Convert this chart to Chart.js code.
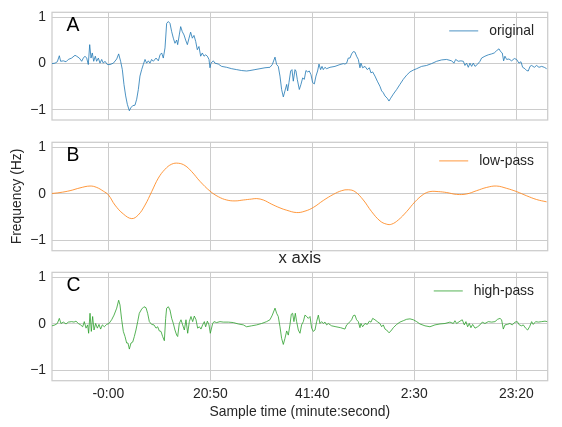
<!DOCTYPE html>
<html lang="en">
  <head>
    <meta charset="UTF-8" />
    <title>Original, low-pass and high-pass signal</title>
    <style>
      * {
        margin: 0;
        padding: 0;
        box-sizing: border-box;
      }
      body {
        background: #fff;
      }
      .figure {
        position: relative;
        width: 562px;
        height: 427px;
        background: #fff;
      }
      .figure canvas {
        position: absolute;
        left: 0;
      }
    </style>
  </head>
  <body>
    <div class="figure">
      <canvas id="chartA" width="562" height="130" style="top: 0px"></canvas>
      <canvas id="chartB" width="562" height="130" style="top: 130px"></canvas>
      <canvas id="chartC" width="562" height="182" style="top: 245px"></canvas>
    </div>

    <script src="https://cdn.jsdelivr.net/npm/chart.js"></script>
    <script>
      // sample time in seconds
      const xTickValues = [0, 1250, 2500, 3750, 5000];
      const xTickLabels = ["-0:00", "20:50", "41:40", "2:30", "23:20"];
      const yTickValues = [-1, 0, 1];
      const yTickLabels = ["\u22121", "0", "1"];

      const origTime = [
        -690, -653, -625, -600, -584, -551, -518, -490, -449, -408,
        -388, -355, -326, -306, -286, -265, -245, -228, -212, -196,
        -179, -159, -143, -122, -102, -81, -61, -41, -12, 21,
        62, 103, 127, 151, 172, 192, 213, 233, 258, 274,
        299, 327, 348, 368, 388, 409, 429, 450, 470, 491,
        511, 531, 552, 585, 613, 634, 654, 674, 695, 715,
        736, 756, 777, 797, 817, 838, 850, 870, 887, 907,
        928, 948, 969, 989, 1009, 1030, 1050, 1071, 1091, 1111,
        1132, 1152, 1173, 1193, 1214, 1234, 1246, 1258, 1287, 1307,
        1348, 1389, 1450, 1512, 1573, 1634, 1695, 1736, 1797, 1859,
        1920, 1981, 2010, 2043, 2063, 2083, 2104, 2124, 2145, 2165,
        2186, 2198, 2214, 2235, 2251, 2267, 2288, 2300, 2316, 2341,
        2361, 2382, 2402, 2422, 2443, 2463, 2484, 2504, 2525, 2545,
        2565, 2582, 2602, 2619, 2635, 2655, 2676, 2717, 2778, 2839,
        2880, 2900, 2921, 2941, 2962, 2982, 3003, 3023, 3043, 3064,
        3084, 3096, 3117, 3146, 3174, 3199, 3219, 3240, 3268, 3297,
        3329, 3350, 3370, 3391, 3419, 3440, 3460, 3493, 3534, 3574,
        3615, 3656, 3697, 3738, 3779, 3840, 3901, 3962, 4024, 4085,
        4146, 4208, 4236, 4257, 4289, 4322, 4351, 4371, 4391, 4412,
        4432, 4453, 4473, 4494, 4522, 4555, 4575, 4616, 4657, 4698,
        4730, 4759, 4788, 4808, 4828, 4845, 4861, 4882, 4910, 4943,
        4976, 5004, 5033, 5057, 5078, 5106, 5127, 5147, 5168, 5188,
        5221, 5249, 5278, 5311, 5343, 5372,
      ];
      const origValue = [
        0, 0.01, 0.04, 0.17, 0.05, 0.06, 0.04, 0.09, 0.12, 0.18,
        0.16, 0.12, 0.05, 0.12, 0.16, 0.12, -0.02, 0.41, 0.12, 0.23,
        0.05, 0.16, 0.05, 0.12, 0.01, 0.09, 0.01, 0.05, -0.02, -0.02,
        0.01, 0.1, 0.21, 0.05, -0.13, -0.45, -0.7, -0.88, -1.02, -0.96,
        -0.91, -0.9, -0.77, -0.56, -0.27, -0.13, -0.02, 0.09, 0.01, 0.06,
        0.01, 0.09, 0.05, 0.12, 0.06, 0.19, 0.23, 0.12, 0.34, 0.87,
        0.91, 0.87, 0.69, 0.55, 0.44, 0.51, 0.41, 0.62, 0.8, 0.69,
        0.62, 0.51, 0.41, 0.55, 0.68, 0.55, 0.61, 0.48, 0.3, 0.37,
        0.16, 0.23, 0.16, 0.19, 0.16, 0.09, -0.09, 0.01, 0.06, 0.01,
        -0.01, -0.06, -0.08, -0.11, -0.13, -0.15, -0.16, -0.15, -0.13, -0.11,
        -0.09, -0.08, -0.02, 0.14, -0.02, -0.06, -0.27, -0.56, -0.72, -0.59,
        -0.45, -0.59, -0.41, -0.16, -0.13, -0.38, -0.13, -0.16, -0.34, -0.56,
        -0.45, -0.31, -0.34, -0.15, -0.18, -0.16, -0.24, -0.41, -0.44, -0.27,
        -0.16, -0.01, -0.13, -0.06, -0.13, -0.08, -0.11, -0.08, -0.06, -0.02,
        0, -0.01, 0.01, 0.12, 0.12, 0.21, 0.26, 0.25, 0.16, 0.09,
        -0.09, 0.01, -0.09, -0.06, -0.13, -0.09, -0.2, -0.18, -0.27, -0.38,
        -0.49, -0.59, -0.63, -0.7, -0.75, -0.81, -0.75, -0.66, -0.56, -0.45,
        -0.34, -0.25, -0.18, -0.14, -0.11, -0.06, -0.04, 0, 0.05, 0.08,
        0.09, 0.06, 0.01, 0.09, 0.05, 0.06, 0.05, -0.04, 0.01, -0.08,
        0.01, -0.06, 0.01, -0.06, -0.02, 0.05, 0.12, 0.16, 0.19, 0.21,
        0.23, 0.28, 0.32, 0.26, 0.23, 0.06, 0.16, 0.09, 0.1, 0.06,
        0.11, 0.09, 0.01, 0.04, -0.08, -0.11, -0.15, -0.16, -0.06, -0.04,
        -0.08, -0.04, -0.08, -0.06, -0.08, -0.11,
      ];

      const lowTime = [
        -690, -592, -469, -347, -224, -142, -61, 1, 82, 184,
        287, 368, 450, 532, 613, 695, 777, 859, 940, 1022,
        1124, 1247, 1349, 1451, 1553, 1655, 1757, 1819, 1900, 2002,
        2104, 2186, 2308, 2410, 2513, 2635, 2758, 2860, 2941, 3023,
        3125, 3227, 3330, 3411, 3472, 3554, 3656, 3758, 3861, 3942,
        4044, 4147, 4269, 4392, 4514, 4637, 4759, 4882, 5004, 5127,
        5249, 5372,
      ];
      const lowValue = [
        0.01, 0.03, 0.07, 0.13, 0.17, 0.14, 0.06, -0.02, -0.24, -0.43,
        -0.53, -0.45, -0.24, 0.05, 0.34, 0.53, 0.64, 0.66, 0.61, 0.48,
        0.27, 0.06, -0.06, -0.13, -0.15, -0.13, -0.11, -0.1, -0.13, -0.22,
        -0.3, -0.35, -0.4, -0.37, -0.29, -0.14, -0.01, 0.07, 0.09, 0.05,
        -0.13, -0.38, -0.58, -0.65, -0.65, -0.56, -0.38, -0.17, -0.01, 0.05,
        0.05, 0.03, -0.01, 0, 0.07, 0.14, 0.17, 0.12, 0.05, -0.04,
        -0.12, -0.17,
      ];

      const highTime = [
        -690, -653, -625, -600, -580, -551, -518, -490, -449, -420,
        -396, -367, -339, -314, -294, -273, -253, -241, -224, -208,
        -192, -175, -155, -134, -114, -94, -73, -49, -20, 8,
        41, 70, 103, 127, 143, 164, 184, 205, 225, 241,
        258, 278, 299, 319, 339, 360, 380, 409, 437, 462,
        482, 503, 531, 560, 585, 605, 625, 646, 666, 687,
        703, 715, 736, 756, 777, 797, 817, 838, 850, 870,
        891, 911, 932, 952, 973, 993, 1013, 1034, 1054, 1075,
        1095, 1116, 1136, 1156, 1177, 1193, 1214, 1234, 1250, 1279,
        1295, 1328, 1369, 1409, 1471, 1532, 1593, 1655, 1695, 1757,
        1818, 1879, 1940, 1981, 2010, 2043, 2063, 2083, 2104, 2124,
        2145, 2165, 2186, 2206, 2226, 2243, 2259, 2275, 2292, 2308,
        2329, 2349, 2369, 2390, 2410, 2431, 2451, 2472, 2492, 2512,
        2533, 2553, 2574, 2594, 2614, 2635, 2655, 2676, 2696, 2737,
        2790, 2847, 2900, 2921, 2941, 2962, 2982, 3003, 3023, 3043,
        3064, 3084, 3096, 3117, 3146, 3174, 3199, 3219, 3240, 3268,
        3297, 3329, 3350, 3370, 3391, 3411, 3440, 3464, 3493, 3534,
        3574, 3615, 3656, 3697, 3738, 3779, 3819, 3881, 3942, 4003,
        4065, 4126, 4187, 4228, 4248, 4269, 4310, 4338, 4363, 4383,
        4404, 4424, 4444, 4465, 4494, 4526, 4555, 4583, 4616, 4657,
        4698, 4739, 4771, 4800, 4820, 4841, 4861, 4890, 4922, 4951,
        4984, 5012, 5037, 5065, 5086, 5114, 5139, 5163, 5188, 5208,
        5237, 5270, 5311, 5352, 5380,
      ];
      const highValue = [
        -0.04, -0.02, 0.01, 0.12, 0.01, 0.04, 0, 0.04, 0.05, 0.04,
        0.06, 0.01, -0.02, -0.06, 0.05, -0.09, -0.02, -0.2, 0.23, -0.16,
        0.16, -0.13, 0.01, -0.09, -0.01, -0.11, -0.02, -0.06, -0.01, 0.01,
        0.09, 0.19, 0.34, 0.51, 0.41, 0.09, -0.16, -0.27, -0.41, -0.41,
        -0.54, -0.41, -0.39, -0.27, -0.13, 0.05, 0.23, 0.32, 0.37, 0.35,
        0.23, 0.05, -0.01, -0.02, -0.09, -0.06, -0.15, -0.16, -0.27, -0.36,
        0.12, 0.34, 0.37, 0.3, 0.12, 0.01, -0.13, -0.24, -0.27, 0.01,
        0.09, -0.02, -0.13, 0.09, -0.2, 0.05, 0.16, 0.05, 0.17, 0.09,
        -0.09, -0.06, -0.11, -0.02, 0.05, -0.06, 0.06, -0.02, -0.2, 0.01,
        0.05, 0.03, 0.05, 0.04, 0.04, 0.03, 0, -0.02, -0.06, -0.04,
        -0.02, 0.01, 0.05, 0.09, 0.19, 0.34, 0.23, 0.16, -0.06, -0.31,
        -0.44, -0.31, -0.15, -0.24, -0.02, 0.21, 0.23, 0.05, 0.23, 0.05,
        -0.13, -0.2, -0.02, 0.05, 0.19, 0.16, 0.12, 0.16, -0.09, -0.16,
        -0.13, 0.05, 0.19, 0.01, 0.05, 0.01, 0.04, -0.02, 0.01, -0.04,
        -0.06, -0.08, -0.11, -0.02, 0.01, 0.05, 0.09, 0.18, 0.19, 0.09,
        0.05, -0.08, 0.01, -0.06, 0.01, -0.01, 0.06, 0.04, 0.12, 0.09,
        0.05, 0.01, -0.06, -0.02, -0.11, -0.13, -0.19, -0.15, -0.08, -0.01,
        0.04, 0.07, 0.1, 0.11, 0.09, 0.05, 0, -0.04, -0.06, -0.02,
        0, 0.01, 0.04, 0.01, 0.07, 0.01, 0.06, 0.09, -0.02, 0.05,
        -0.06, 0.01, -0.08, -0.01, -0.09, -0.06, -0.02, 0.04, 0.01, 0.05,
        0.04, 0.05, 0.1, 0.12, 0.09, -0.11, -0.02, -0.01, 0.01, -0.02,
        0.04, 0.05, -0.02, -0.04, -0.02, -0.09, -0.13, -0.06, 0.05, -0.01,
        0.05, 0.04, 0.05, 0.06, 0.05,
      ];

      const FONT = "'Liberation Sans', Arial, sans-serif";
      const GRID = "#cccccc";
      const TEXT = "#262626";

      function toPoints(xs, ys) {
        return xs.map((x, i) => ({ x: x, y: ys[i] }));
      }

      // box around the plot area, on all four sides
      const frame = {
        id: "frame",
        beforeDatasetsDraw(chart) {
          const { ctx, chartArea: { left, top, width, height } } = chart;
          ctx.save();
          ctx.strokeStyle = GRID;
          ctx.lineWidth = 1.25;
          ctx.strokeRect(left, top, width, height);
          ctx.restore();
        },
      };

      // panel letter and the one-line legend in the top right corner
      const panelText = {
        id: "panelText",
        afterDraw(chart, args, opts) {
          const { ctx, chartArea: { top, left, right } } = chart;
          const ds = chart.data.datasets[0];
          ctx.save();
          ctx.fillStyle = "#000";
          ctx.font = "19.4px " + FONT;
          ctx.textAlign = "left";
          ctx.textBaseline = "alphabetic";
          ctx.fillText(opts.letter, left + 14.5, top + 18.7);

          ctx.font = "13.9px " + FONT;
          ctx.fillStyle = TEXT;
          ctx.textAlign = "right";
          ctx.textBaseline = "middle";
          const ty = top + 18.6;
          const tx = right - 13.7;
          ctx.fillText(ds.label, tx, ty);
          const w = ctx.measureText(ds.label).width;
          ctx.strokeStyle = ds.borderColor;
          ctx.lineWidth = ds.borderWidth;
          ctx.beginPath();
          ctx.moveTo(tx - w - 11 - 29, ty);
          ctx.lineTo(tx - w - 11, ty);
          ctx.stroke();
          ctx.restore();
        },
      };

      function makeChart(id, opts) {
        const tickFont = { family: FONT, size: 13.9 };
        return new Chart(document.getElementById(id), {
          type: "line",
          data: {
            datasets: [
              {
                label: opts.label,
                data: toPoints(opts.xs, opts.ys),
                borderColor: opts.color,
                borderWidth: 0.8,
                pointRadius: 0,
                tension: opts.tension || 0,
                fill: false,
              },
            ],
          },
          options: {
            responsive: false,
            animation: false,
            events: [],
            layout: { padding: opts.padding },
            plugins: {
              legend: { display: false },
              tooltip: { enabled: false },
              title: opts.title
                ? {
                    display: true,
                    text: opts.title,
                    fullSize: false,
                    color: TEXT,
                    font: { family: FONT, size: 16.7, weight: "normal" },
                    padding: { top: 3, bottom: 4.3 },
                  }
                : { display: false },
              panelText: { letter: opts.letter },
            },
            scales: {
              x: {
                type: "linear",
                min: -690,
                max: 5385,
                afterBuildTicks: (s) => {
                  s.ticks = xTickValues.map((v) => ({ value: v }));
                },
                afterFit: (s) => {
                  s.height = opts.showX ? 46.3 : 0;
                  s.paddingLeft = 0;
                  s.paddingRight = 0;
                },
                grid: { color: GRID, lineWidth: 1, drawTicks: false },
                border: { display: false },
                ticks: {
                  display: opts.showX,
                  padding: 5,
                  color: TEXT,
                  font: tickFont,
                  maxRotation: 0,
                  autoSkip: false,
                  callback: (v, i) => xTickLabels[i],
                },
                title: {
                  display: opts.showX,
                  text: "Sample time (minute:second)",
                  color: TEXT,
                  font: tickFont,
                  padding: { top: 0, bottom: 6 },
                },
              },
              y: {
                min: -1.22,
                max: 1.11,
                afterBuildTicks: (s) => {
                  s.ticks = yTickValues.map((v) => ({ value: v }));
                },
                afterFit: (s) => {
                  // fixed axis width, and no extra room for the end labels
                  s.width = 52;
                  s.paddingTop = 0;
                  s.paddingBottom = 0;
                },
                grid: { color: GRID, lineWidth: 1, drawTicks: false },
                border: { display: false },
                ticks: {
                  padding: 6,
                  color: TEXT,
                  font: tickFont,
                  callback: (v, i) => yTickLabels[i],
                },
                title: {
                  display: !!opts.yTitle,
                  text: opts.yTitle || "",
                  color: TEXT,
                  font: tickFont,
                  padding: { top: 9.2, bottom: 0 },
                },
              },
            },
          },
          plugins: [frame, panelText],
        });
      }

      makeChart("chartA", {
        xs: origTime,
        ys: origValue,
        label: "original",
        color: "#1f77b4",
        letter: "A",
        showX: false,
        padding: { top: 12.3, bottom: 10, left: 0, right: 14.3 },
      });

      makeChart("chartB", {
        xs: lowTime,
        ys: lowValue,
        label: "low-pass",
        color: "#ff7f0e",
        letter: "B",
        tension: 0.4,
        showX: false,
        yTitle: "Frequency (Hz)",
        padding: { top: 12.3, bottom: 9.3, left: 0, right: 14.3 },
      });

      makeChart("chartC", {
        xs: highTime,
        ys: highValue,
        label: "high-pass",
        color: "#2ca02c",
        letter: "C",
        showX: true,
        title: "x axis",
        padding: { top: 0, bottom: 0, left: 0, right: 14.3 },
      });
    </script>
  </body>
</html>
